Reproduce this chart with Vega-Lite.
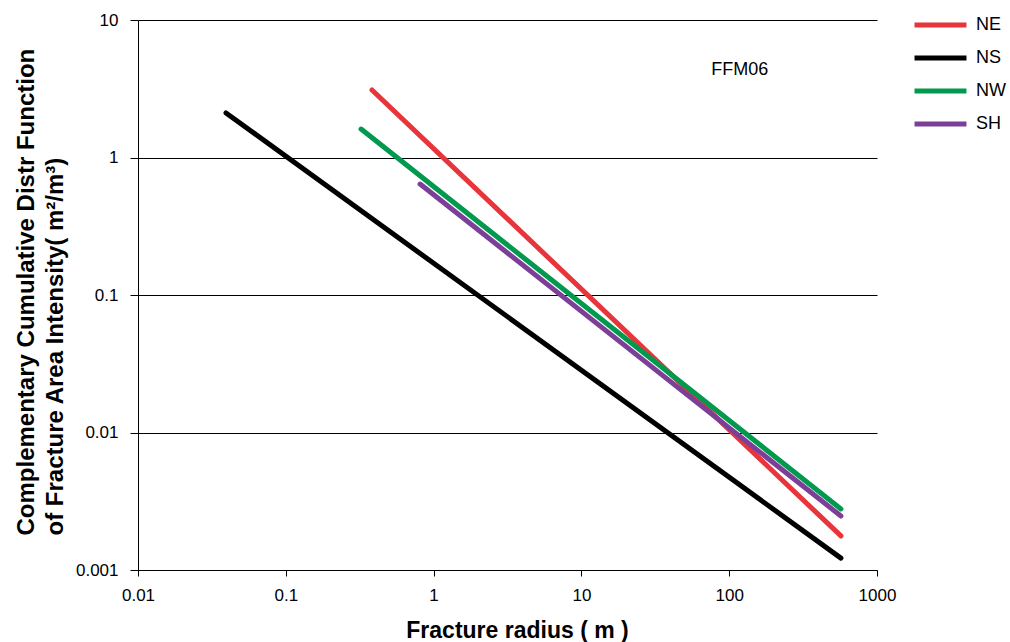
{
  "$schema": "https://vega.github.io/schema/vega-lite/v6.json",
  "width": 739,
  "height": 550,
  "autosize": {"type": "none"},
  "padding": {"left": 138, "top": 20, "right": 133, "bottom": 72},
  "background": "white",
  "config": {
    "view": {"stroke": null},
    "font": "Liberation Sans",
    "axis": {"labelFont": "Liberation Sans", "titleFont": "Liberation Sans", "labelColor": "#000", "titleColor": "#000", "domainColor": "#000", "tickColor": "#000", "labelFlush": false}
  },
  "datasets": {
    "lines": [
      {"series": "NE", "r": 0.383, "v": 3.1},
      {"series": "NE", "r": 570, "v": 0.00177},
      {"series": "NS", "r": 0.0394, "v": 2.11},
      {"series": "NS", "r": 570, "v": 0.00122},
      {"series": "NW", "r": 0.323, "v": 1.61},
      {"series": "NW", "r": 570, "v": 0.00278},
      {"series": "SH", "r": 0.81, "v": 0.641},
      {"series": "SH", "r": 570, "v": 0.00247}
    ],
    "label": [{"r": 118, "v": 4.3, "text": "FFM06"}]
  },
  "layer": [
    {
      "data": {"name": "lines"},
      "mark": {"type": "line", "strokeWidth": 5, "strokeCap": "round"},
      "encoding": {
        "x": {
          "field": "r", "type": "quantitative",
          "scale": {"type": "log", "domain": [0.01, 1000], "nice": false},
          "axis": {
            "values": [0.01, 0.1, 1, 10, 100, 1000], "format": "~g",
            "grid": false, "labelFontSize": 17, "tickSize": 6, "labelPadding": 11,
            "title": "Fracture radius ( m )", "titleFontSize": 23, "titleFontWeight": "bold",
            "titleX": 379, "titleY": 67, "titleBaseline": "alphabetic", "titleAlign": "center"
          }
        },
        "y": {
          "field": "v", "type": "quantitative",
          "scale": {"type": "log", "domain": [0.001, 10], "nice": false},
          "axis": {
            "values": [0.001, 0.01, 0.1, 1, 10], "format": "~g",
            "grid": true, "gridColor": "#000", "gridWidth": 1, "gridOpacity": 1,
            "labelFontSize": 17, "tickSize": 8, "labelPadding": 12,
            "title": ["Complementary Cumulative Distr Function", "of Fracture Area Intensity( m²/m³)"],
            "titleFontSize": 24, "titleFontWeight": "bold", "titleLineHeight": 29,
            "titleX": -105, "titleY": 515, "titleAngle": -90, "titleAlign": "left", "titleBaseline": "alphabetic"
          }
        },
        "color": {
          "field": "series", "type": "nominal",
          "scale": {"domain": ["NE", "NS", "NW", "SH"], "range": ["#E8343B", "#000000", "#00994D", "#7B3F98"]},
          "legend": {
            "title": null, "orient": "none", "legendX": 774, "legendY": -5,
            "symbolType": "stroke", "symbolSize": 2700, "symbolStrokeWidth": 5,
            "clipHeight": 20, "rowPadding": 13, "labelFontSize": 18, "labelOffset": 7
          }
        }
      }
    },
    {
      "data": {"name": "label"},
      "mark": {"type": "text", "fontSize": 18, "font": "Liberation Sans", "color": "#000"},
      "encoding": {
        "x": {"field": "r", "type": "quantitative"},
        "y": {"field": "v", "type": "quantitative"},
        "text": {"field": "text"}
      }
    }
  ]
}
